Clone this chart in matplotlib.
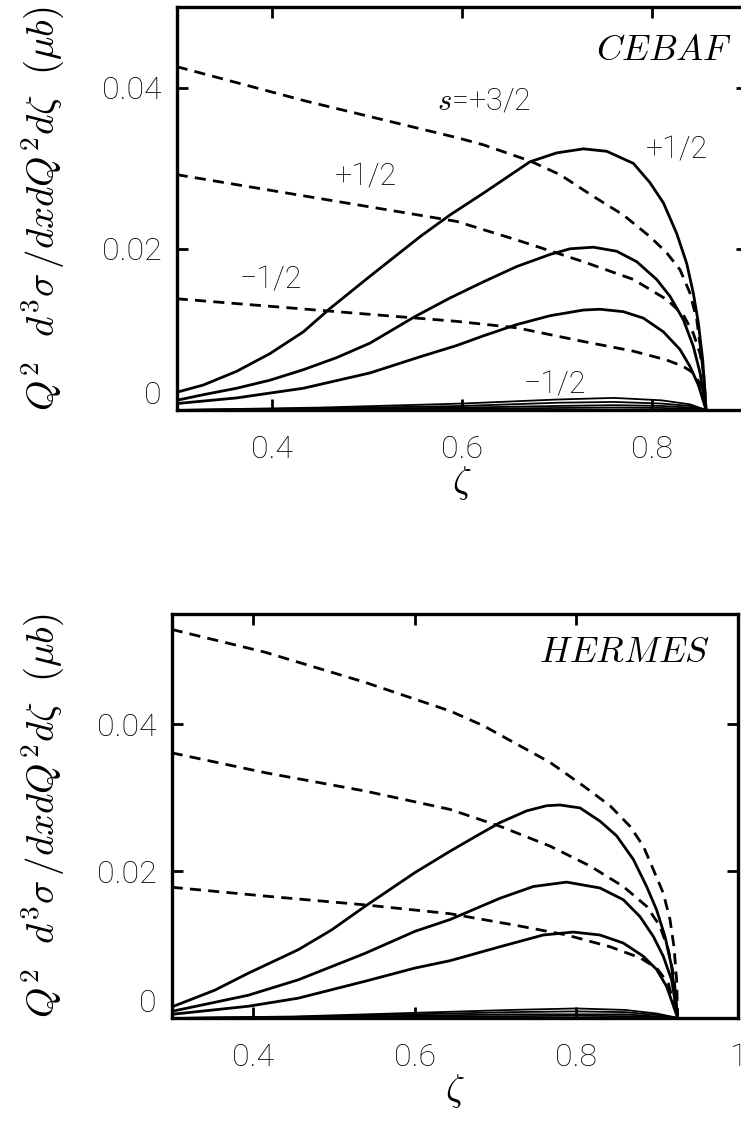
import matplotlib
matplotlib.use('Agg')
import matplotlib.pyplot as plt

plt.rcParams['font.family'] = ['Roboto', 'DejaVu Sans']
plt.rcParams['mathtext.fontset'] = 'cm'

# ---- CEBAF (top panel) ----
ceb_d32_x = [0.2997, 0.4365, 0.5944, 0.6225, 0.6716, 0.7032, 0.7383, 0.7698, 0.7979, 0.8155,
             0.8295, 0.8400, 0.8471, 0.8513, 0.8548, 0.8569]
ceb_d32_y = [0.0426, 0.0383, 0.0338, 0.0329, 0.0309, 0.0292, 0.0265, 0.0242, 0.0215, 0.0195,
             0.0174, 0.0145, 0.0112, 0.0075, 0.0037, 0.0]
ceb_dp12_x = [0.2997, 0.5944, 0.6576, 0.7277, 0.7804, 0.8155, 0.8330, 0.8435, 0.8506, 0.8548, 0.8569]
ceb_dp12_y = [0.0292, 0.0234, 0.0211, 0.0184, 0.0162, 0.0137, 0.0118, 0.0095, 0.0070, 0.0041, 0.0]
ceb_dm12_x = [0.2997, 0.5944, 0.6576, 0.7277, 0.7804, 0.8155, 0.8330, 0.8435, 0.8523, 0.8569]
ceb_dm12_y = [0.0138, 0.0110, 0.0102, 0.0085, 0.0073, 0.0062, 0.0054, 0.0046, 0.0029, 0.0]

ceb_s1_x = [0.2997, 0.3277, 0.3628, 0.3979, 0.4330, 0.4611, 0.5032, 0.5558, 0.5874, 0.6225,
            0.6716, 0.6997, 0.7277, 0.7523, 0.7804, 0.7979, 0.8120, 0.8260, 0.8365, 0.8435,
            0.8488, 0.8534, 0.8569]
ceb_s1_y = [0.0022, 0.0031, 0.0048, 0.0070, 0.0097, 0.0126, 0.0166, 0.0215, 0.0242, 0.0269,
            0.0308, 0.0319, 0.0324, 0.0321, 0.0306, 0.0282, 0.0257, 0.0219, 0.0182, 0.0145,
            0.0108, 0.0062, 0.0]
ceb_s2_x = [0.2997, 0.3277, 0.3628, 0.3979, 0.4330, 0.4681, 0.5032, 0.5506, 0.5874, 0.6225,
            0.6576, 0.6927, 0.7137, 0.7383, 0.7628, 0.7839, 0.8049, 0.8190, 0.8330, 0.8435,
            0.8506, 0.8569]
ceb_s2_y = [0.0012, 0.0019, 0.0027, 0.0037, 0.0050, 0.0065, 0.0083, 0.0116, 0.0139, 0.0159,
            0.0178, 0.0193, 0.0200, 0.0202, 0.0197, 0.0184, 0.0162, 0.0141, 0.0112, 0.0079,
            0.0046, 0.0]
ceb_s3_x = [0.2997, 0.3628, 0.4330, 0.5032, 0.5558, 0.5944, 0.6225, 0.6576, 0.6927, 0.7277,
            0.7453, 0.7698, 0.7909, 0.8120, 0.8295, 0.8400, 0.8488, 0.8569]
ceb_s3_y = [0.0008, 0.0015, 0.0027, 0.0046, 0.0066, 0.0080, 0.0092, 0.0106, 0.0117, 0.0124,
            0.0125, 0.0122, 0.0114, 0.0097, 0.0075, 0.0054, 0.0031, 0.0]

ceb_small_x = [0.30, 0.45, 0.60, 0.70, 0.76, 0.81, 0.84, 0.857, 0.90]
ceb_small_y = [
    [0.0, 0.0003, 0.0008, 0.0013, 0.0015, 0.0012, 0.0007, 0.0, 0.0],
    [0.0, 0.0002, 0.0005, 0.0009, 0.0010, 0.0008, 0.0005, 0.0, 0.0],
    [0.0, 0.0001, 0.0003, 0.0005, 0.0006, 0.0005, 0.0003, 0.0, 0.0],
    [0.0, 0.00005, 0.00015, 0.00025, 0.0003, 0.00025, 0.00015, 0.0, 0.0],
]

# ---- HERMES (bottom panel) ----
her_d32_x = [0.2996, 0.4150, 0.5387, 0.6438, 0.6850, 0.7262, 0.7675, 0.8087, 0.8417, 0.8664,
             0.8829, 0.8953, 0.9076, 0.9159, 0.9208, 0.9241, 0.9254]
her_d32_y = [0.0529, 0.0498, 0.0457, 0.0418, 0.0398, 0.0373, 0.0348, 0.0316, 0.0289, 0.0261,
             0.0234, 0.0202, 0.0170, 0.0134, 0.0097, 0.0052, 0.0]
her_dp12_x = [0.2996, 0.4150, 0.5387, 0.6438, 0.7056, 0.7675, 0.8169, 0.8582, 0.8870, 0.9035,
              0.9138, 0.9208, 0.9254]
her_dp12_y = [0.0361, 0.0334, 0.0309, 0.0284, 0.0261, 0.0234, 0.0207, 0.0179, 0.0152, 0.0125,
              0.0093, 0.0056, 0.0]
her_dm12_x = [0.2996, 0.4150, 0.5387, 0.6438, 0.7262, 0.7881, 0.8417, 0.8788, 0.8994, 0.9138, 0.9254]
her_dm12_y = [0.0178, 0.0166, 0.0154, 0.0142, 0.0126, 0.0113, 0.0097, 0.0082, 0.0068, 0.0047, 0.0]

her_s1_x = [0.2996, 0.3532, 0.3944, 0.4562, 0.4975, 0.5387, 0.6005, 0.6438, 0.6768, 0.7056,
            0.7386, 0.7633, 0.7798, 0.8046, 0.8293, 0.8499, 0.8705, 0.8870, 0.8994, 0.9097,
            0.9179, 0.9254]
her_s1_y = [0.0015, 0.0038, 0.0061, 0.0093, 0.0120, 0.0152, 0.0198, 0.0227, 0.0248, 0.0266,
            0.0282, 0.0289, 0.0290, 0.0286, 0.0268, 0.0248, 0.0216, 0.0179, 0.0147, 0.0111,
            0.0070, 0.0]
her_s2_x = [0.2996, 0.3944, 0.4562, 0.5387, 0.6005, 0.6438, 0.7056, 0.7469, 0.7881, 0.8293,
            0.8582, 0.8788, 0.8953, 0.9076, 0.9179, 0.9254]
her_s2_y = [0.0009, 0.0031, 0.0052, 0.0088, 0.0118, 0.0134, 0.0163, 0.0179, 0.0185, 0.0177,
            0.0161, 0.0138, 0.0111, 0.0084, 0.0052, 0.0]
her_s3_x = [0.2996, 0.3944, 0.4562, 0.5387, 0.6005, 0.6438, 0.7056, 0.7592, 0.7963, 0.8293,
            0.8582, 0.8829, 0.8994, 0.9117, 0.9254]
her_s3_y = [0.0005, 0.0016, 0.0027, 0.0050, 0.0068, 0.0078, 0.0097, 0.0113, 0.0117, 0.0113,
            0.0102, 0.0084, 0.0066, 0.0043, 0.0]

her_small_x = [0.30, 0.45, 0.60, 0.72, 0.80, 0.86, 0.90, 0.926, 1.0]
her_small_y = [
    [0.0, 0.0002, 0.0007, 0.0011, 0.0013, 0.0011, 0.0006, 0.0, 0.0],
    [0.0, 0.00015, 0.0005, 0.0008, 0.0009, 0.0008, 0.0004, 0.0, 0.0],
    [0.0, 0.0001, 0.0003, 0.0005, 0.0005, 0.0005, 0.0002, 0.0, 0.0],
    [0.0, 0.00005, 0.00015, 0.00025, 0.0003, 0.00025, 0.0001, 0.0, 0.0],
]

ylabel = r'$Q^2\ \ d^3\sigma\,/dxdQ^2d\zeta\ \ (\mu b)$'
LW = 2.0
DASH = (4, 2.6)
TXT = dict(fontsize=22, fontweight='light', ha='center', va='center')

fig = plt.figure(figsize=(7.41, 11.28), dpi=100)
ax1 = fig.add_axes([177/741, 1-410/1128, 570/741, 403/1128])
ax2 = fig.add_axes([172/741, 1-1018/1128, 566/741, 404/1128])


def style(ax, xlim, ylim, xticks, xlabels):
    ax.set_xlim(*xlim)
    ax.set_ylim(*ylim)
    ax.set_xticks(xticks)
    ax.set_xticklabels(xlabels, fontweight='light')
    ax.set_yticks([0, 0.02, 0.04])
    ax.set_yticklabels(['0', '0.02', '0.04'], fontweight='light')
    ax.tick_params(direction='in', length=8, width=2, top=True, right=True,
                   labelsize=23)
    ax.tick_params(axis='x', pad=18)
    ax.tick_params(axis='y', pad=11)
    ax.get_yticklabels()[0].set_verticalalignment('bottom')
    for sp in ax.spines.values():
        sp.set_linewidth(2.4)
    ax.set_xlabel(r'$\zeta$', fontsize=27, labelpad=0)
    ax.set_ylabel(ylabel, fontsize=28)


# top panel
for xs, ys in [(ceb_d32_x, ceb_d32_y), (ceb_dp12_x, ceb_dp12_y), (ceb_dm12_x, ceb_dm12_y)]:
    ax1.plot(xs, ys, color='black', lw=LW, linestyle=(0, DASH))
for xs, ys in [(ceb_s1_x, ceb_s1_y), (ceb_s2_x, ceb_s2_y), (ceb_s3_x, ceb_s3_y)]:
    ax1.plot(xs, ys, color='black', lw=LW)
for ys in ceb_small_y:
    ax1.plot(ceb_small_x, ys, color='black', lw=1.3)
style(ax1, (0.3, 0.9), (0, 0.05), [0.4, 0.6, 0.8], ['0.4', '0.6', '0.8'])
ax1.yaxis.set_label_coords(-0.195, 0.5)
ax1.text(0.8126, 0.0447, r'$CEBAF$', fontsize=26, ha='center', va='center')
ax1.text(0.623, 0.0383, r'$s$=+3/2', **TXT)
ax1.text(0.826, 0.0323, '+1/2', **TXT)
ax1.text(0.499, 0.0289, '+1/2', **TXT)
ax1.text(0.399, 0.0161, '\u22121/2', **TXT)
ax1.text(0.698, 0.0031, '\u22121/2', **TXT)

# bottom panel
for xs, ys in [(her_d32_x, her_d32_y), (her_dp12_x, her_dp12_y), (her_dm12_x, her_dm12_y)]:
    ax2.plot(xs, ys, color='black', lw=LW, linestyle=(0, DASH))
for xs, ys in [(her_s1_x, her_s1_y), (her_s2_x, her_s2_y), (her_s3_x, her_s3_y)]:
    ax2.plot(xs, ys, color='black', lw=LW)
for ys in her_small_y:
    ax2.plot(her_small_x, ys, color='black', lw=1.3)
style(ax2, (0.3, 1.0), (0, 0.055), [0.4, 0.6, 0.8, 1.0], ['0.4', '0.6', '0.8', '1'])
ax2.yaxis.set_label_coords(-0.187, 0.5)
ax2.text(0.860, 0.0498, r'$HERMES$', fontsize=26, ha='center', va='center')

fig.savefig('out.png', dpi=100)
